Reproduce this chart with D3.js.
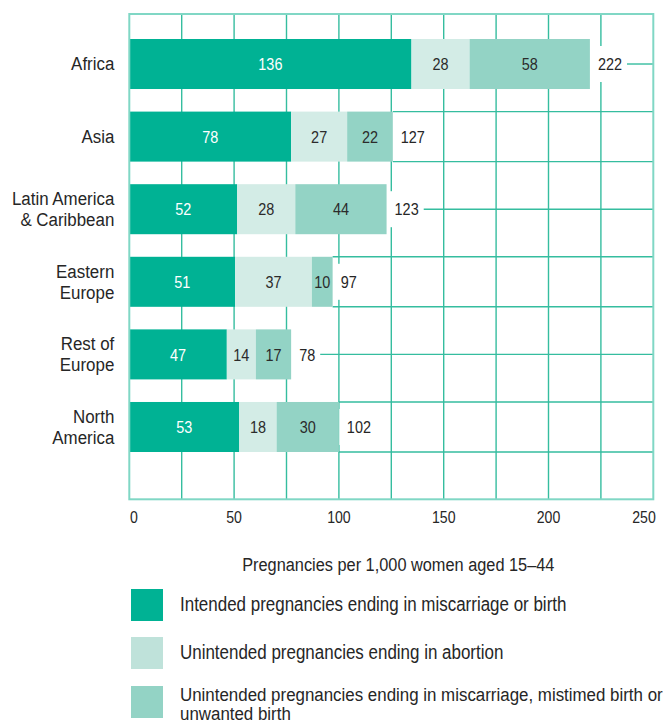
<!DOCTYPE html>
<html><head><meta charset="utf-8">
<script src="https://cdn.jsdelivr.net/npm/d3@7"></script>
<style>
html,body{margin:0;padding:0;background:#fff;}
svg{display:block;}
text{font-family:"Liberation Sans",Arial,Roboto,sans-serif;}
</style></head>
<body>
<svg id="chart" width="664" height="723"></svg>
<script>
const categories = ["Africa","Asia","Latin America & Caribbean","Eastern Europe","Rest of Europe","North America"];
const categoryLines = [["Africa"],["Asia"],["Latin America","& Caribbean"],["Eastern","Europe"],["Rest of","Europe"],["North","America"]];
const intended = [136,78,52,51,47,53];
const abortion = [28,27,28,37,14,18];
const otherUnintended = [58,22,44,10,17,30];
const totals = [222,127,123,97,78,102];
const seriesNames = ["Intended pregnancies ending in miscarriage or birth","Unintended pregnancies ending in abortion","Unintended pregnancies ending in miscarriage, mistimed birth or|unwanted birth"];
const xTicks = [0,50,100,150,200,250];
const gridValues = [25,50,75,100,125,150,175,200,225];
const axisTitle = "Pregnancies per 1,000 women aged 15–44";

const colors = ["#00b294","#d3ece6","#93d3c5"];
const legendColors = ["#00b294","#bfe2da","#93d3c5"];
const labelColors = ["#ffffff","#2b2b2b","#2b2b2b"];
const gridColor = "#35bd9f";
const frameColor = "#80d7c5";
const textColor = "#262626";

const svg = d3.select("#chart");
const pTop = 14, pBottom = 499.3, pLeft = 129.3, pRight = 653.3;
const x = d3.scaleLinear().domain([0,250]).range([pLeft, 648]);
const xGrid = d3.scaleLinear().domain([0,250]).range([pLeft, pRight]);
const y = d3.scaleBand().domain(categories).range([39, 452]).paddingInner(0.311).paddingOuter(0);

// condensed text helper: returns rendered width
function addText(parent, tx, ty, str, size, anchor, fill, sx, dy) {
  const g = parent.append("g").attr("transform", `translate(${tx},${ty}) scale(${sx},1)`);
  const t = g.append("text").attr("x",0).attr("y",0).attr("dy", dy == null ? "0.36em" : dy)
    .attr("text-anchor", anchor).attr("font-size", size).attr("fill", fill).text(str);
  return t.node().getComputedTextLength() * sx;
}

const rows = categories.map((c,i)=>({cat:c, lines:categoryLines[i], vals:[intended[i],abortion[i],otherUnintended[i]], total:totals[i], i}));
const stack = d3.stack().keys([0,1,2]).value((d,k)=>d.vals[k]);
const stacked = stack(rows);

// vertical grid
svg.append("g").selectAll("line").data(gridValues).join("line")
  .attr("x1",d=>xGrid(d)).attr("x2",d=>xGrid(d))
  .attr("y1",pTop).attr("y2",pBottom)
  .attr("stroke",gridColor).attr("stroke-width",1.4);

const hg = svg.append("g");
const bgG = svg.append("g");
const barG = svg.append("g");
const lblG = svg.append("g");

// bars
stacked.forEach((s,k)=>{
  barG.append("g").selectAll("rect").data(s).join("rect")
    .attr("x",d=>x(d[0])).attr("width",d=>x(d[1])-x(d[0]))
    .attr("y",d=>y(d.data.cat)).attr("height",y.bandwidth())
    .attr("fill",colors[k]);
});
stacked.forEach((s,k)=>{
  s.forEach(d=>{
    addText(lblG, (x(d[0])+x(d[1]))/2, y(d.data.cat)+y.bandwidth()/2, d.data.vals[k], 17, "middle", labelColors[k], 0.85);
  });
});

// totals, white backgrounds and horizontal rules
rows.forEach(r=>{
  const end = x(d3.sum(r.vals));
  const yc = y(r.cat) + y.bandwidth()/2;
  const w = addText(lblG, end+8, yc, r.total, 17, "start", textColor, 0.85);
  bgG.append("rect").attr("x",end+0.5).attr("y",yc-18).attr("width",w+12).attr("height",36).attr("fill","#fff");
  if (r.i % 2 === 0) {
    hg.append("line").attr("x1",end+8+w+5).attr("x2",pRight).attr("y1",yc).attr("y2",yc)
      .attr("stroke",gridColor).attr("stroke-width",1.4);
  } else {
    [y(r.cat), y(r.cat)+y.bandwidth()].forEach(yy=>{
      hg.append("line").attr("x1",end).attr("x2",pRight).attr("y1",yy).attr("y2",yy)
        .attr("stroke",gridColor).attr("stroke-width",1.4);
    });
  }
});

// frame
svg.append("rect").attr("x",pLeft).attr("y",pTop).attr("width",pRight-pLeft).attr("height",pBottom-pTop)
  .attr("fill","none").attr("stroke",frameColor).attr("stroke-width",2);

// category labels
const catG = svg.append("g");
rows.forEach(r=>{
  const yc = y(r.cat) + y.bandwidth()/2;
  const lh = 21;
  const n = r.lines.length;
  r.lines.forEach((ln,j)=>{
    addText(catG, 114.3, yc + (j-(n-1)/2)*lh - 0.5, ln, 19, "end", textColor, 0.89);
  });
});

// x tick labels
const tickG = svg.append("g");
xTicks.forEach(v=>{
  addText(tickG, Math.min(Math.max(xGrid(v),134),644), 517, v, 17, "middle", textColor, 0.83);
});

// axis title
addText(svg, 398.3, 564, axisTitle, 19, "middle", textColor, 0.86);

// legend
const legY = [589,637,686];
const legG = svg.append("g");
seriesNames.forEach((nm,k)=>{
  legG.append("rect").attr("x",131).attr("y",legY[k]).attr("width",32).attr("height",32).attr("fill",legendColors[k]);
  const parts = nm.split("|");
  const n = parts.length;
  parts.forEach((p,j)=>{
    addText(legG, 180, legY[k]+(n>1?8:14.5) + j*19.5, p, n>1?19:19.5, "start", textColor, n>1?0.89:0.87);
  });
});
</script>
</body></html>
